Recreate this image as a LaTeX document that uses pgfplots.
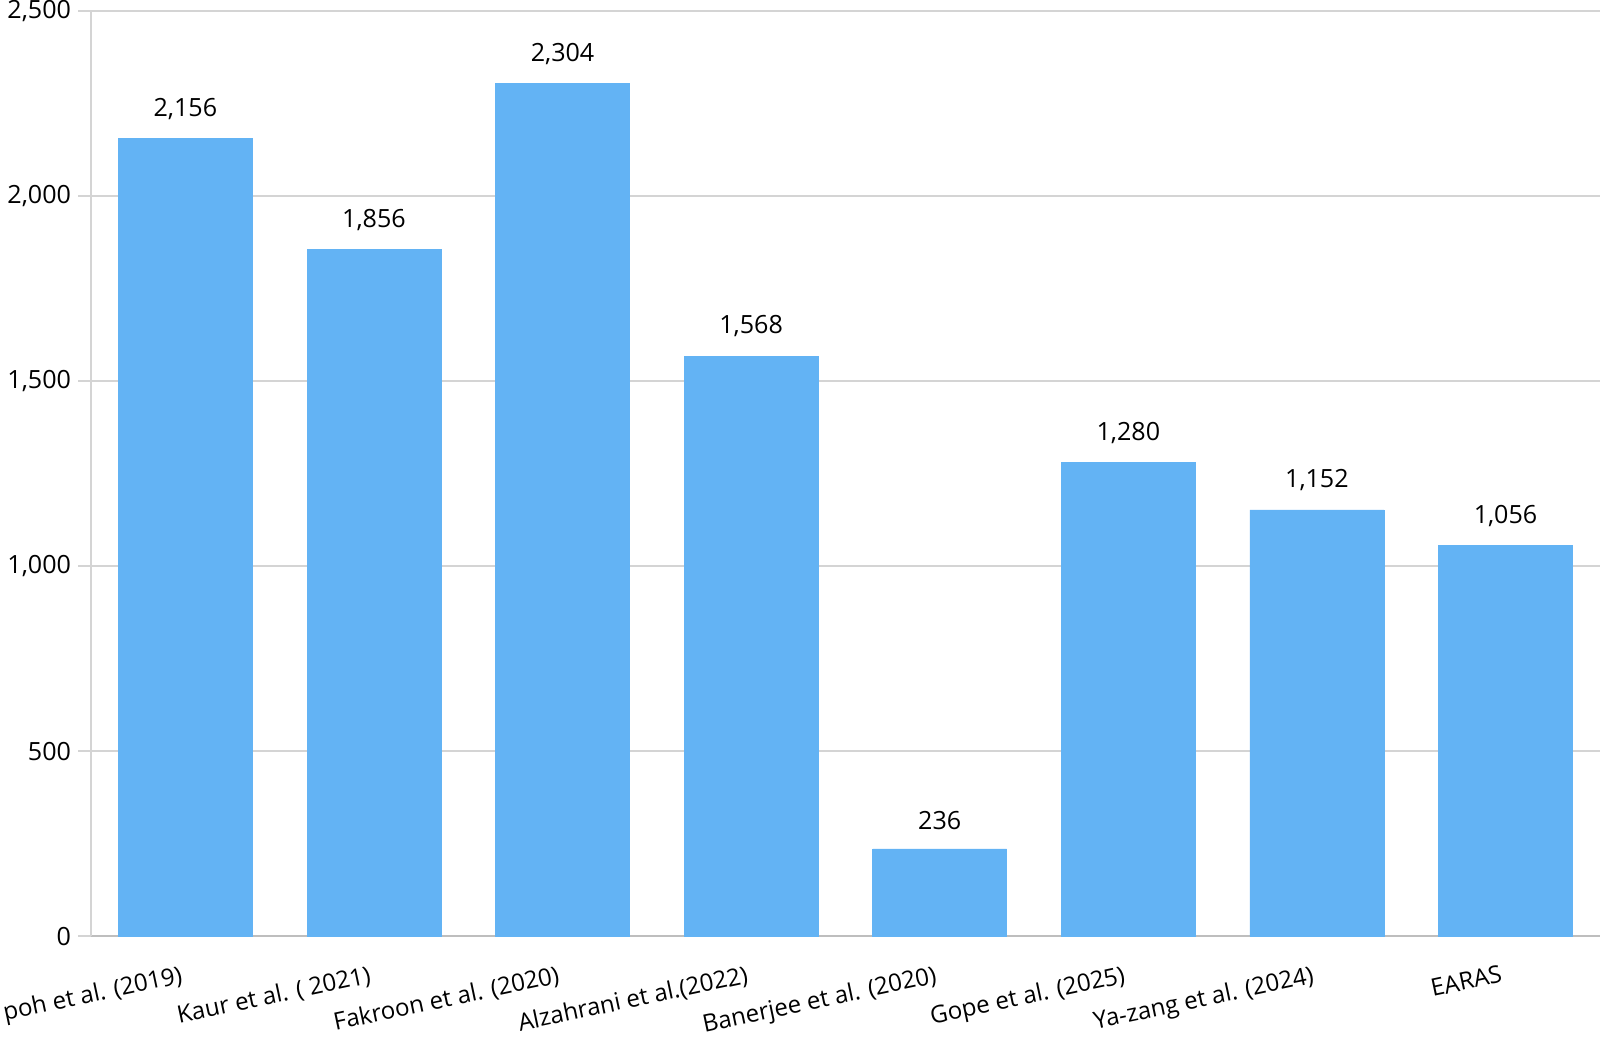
\documentclass[border=0pt]{standalone}
\usepackage{pgfplots}
\pgfplotsset{compat=1.18}
\usepackage{fontspec}
\setmainfont{Open Sans}
\definecolor{barblue}{RGB}{99,179,244}
\definecolor{gridgray}{RGB}{212,212,212}
\definecolor{axisgray}{RGB}{190,190,190}
\begin{document}
\begin{tikzpicture}
\begin{axis}[
  scale only axis,
  width=752pt, height=461pt,
  xmin=-0.5, xmax=7.5, ymin=0, ymax=2500,
  ytick={0,500,1000,1500,2000,2500},
  xtick={0,1,2,3,4,5,6,7},
  xticklabels={poh et al. (2019),Kaur et al. ( 2021),Fakroon et al. (2020),Alzahrani et al.(2022),Banerjee et al. (2020),Gope et al. (2025),Ya-zang et al. (2024),EARAS},
  x tick label style={rotate=12, anchor=north east, font=\fontsize{12}{14}\selectfont, yshift=-3.5pt, xshift=-1pt},
  xtick style={draw=none},
  ytick style={draw=gridgray, line width=0.8pt},
  tick align=outside,
  major tick length=6.5pt,
  ymajorgrids,
  grid style={gridgray, line width=0.8pt},
  axis x line*=bottom,
  axis y line*=left,
  x axis line style={axisgray, line width=1pt, -},
  y axis line style={gridgray, line width=0.8pt, -},
  y tick label style={font=\fontsize{12.5}{14}\selectfont, /pgf/number format/.cd, 1000 sep={,}, assume math mode=true},
  ybar, bar width=0.71,
  nodes near coords,
  nodes near coords style={font=\fontsize{12.5}{14}\selectfont, anchor=south, yshift=6pt, /pgf/number format/.cd, 1000 sep={,}, assume math mode=true},
]
\addplot[fill=barblue, draw=barblue, line width=0.3pt] coordinates {
(0,2156) (1,1856) (2,2304) (3,1568) (4,236) (5,1280) (6,1152) (7,1056)
};
\end{axis}
\pgfresetboundingbox
\path[use as bounding box] ([xshift=-45.4pt,yshift=-52.6pt]current axis.south west) rectangle ([xshift=2.6pt,yshift=5.6pt]current axis.north east);
\end{tikzpicture}
\end{document}
